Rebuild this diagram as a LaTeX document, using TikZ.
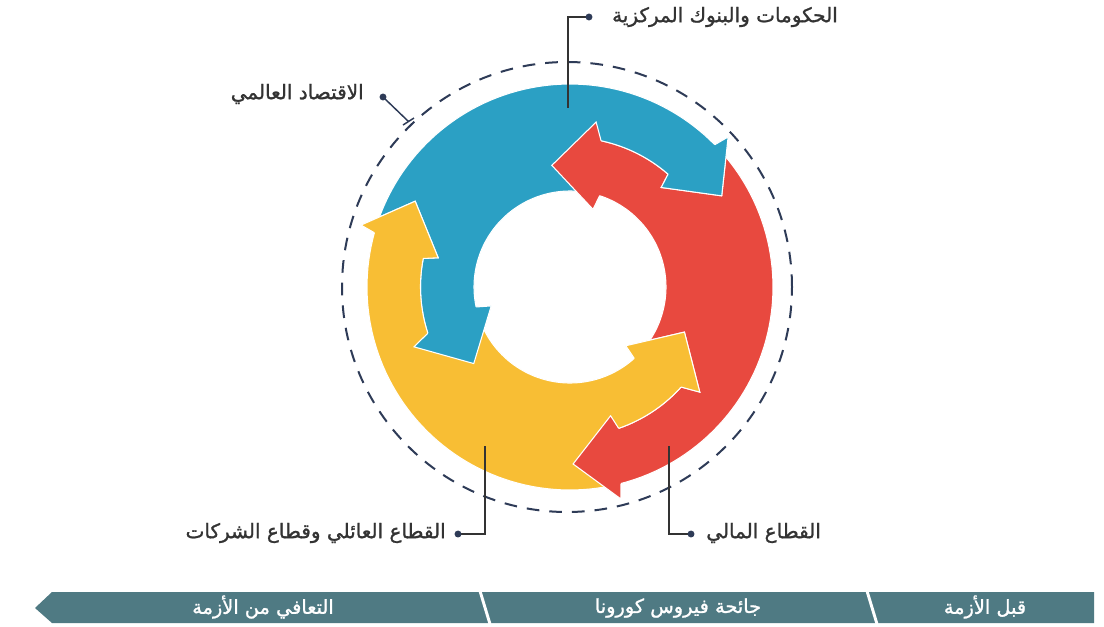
\documentclass[tikz,border=0pt]{standalone}
\usepackage{fontspec}
\newfontfamily\arabicfont[Script=Arabic,FakeBold=1.2]{DejaVu Sans}
\TeXXeTstate=1
\definecolor{cblue}{HTML}{2BA0C4}
\definecolor{cred}{HTML}{E8493F}
\definecolor{cyellow}{HTML}{F8BE34}
\definecolor{cbar}{HTML}{4F7A83}
\definecolor{cnavy}{HTML}{2E3B57}
\definecolor{ctext}{HTML}{333333}
\newcommand{\cyclebody}[1]{%
  \path[fill=#1, draw=white, line width=0.8pt, line join=miter]
   (-75.5:203) -- plot[domain=-75.5:43.5, samples=60] (\x:203)
   -- (46:149.5) -- plot[domain=46:78, samples=20] (\x:149.5)
   -- (81:167) -- (98.5:123) -- (73.5:81) -- (72:96)
   -- plot[domain=72:-45, samples=60] (\x:96)
   -- (-39.5:149.5) -- plot[domain=-39.5:-71, samples=20] (\x:149.5)
   -- (-72.5:135) -- (-89:177) -- (-76.5:218) -- cycle;}
\newcommand{\cycleheads}[1]{%
  \fill[#1] (-75.5:203) -- (-76.5:218) -- (-89:177) -- (-72.5:135) -- (-71:149.5) -- cycle;
  \draw[white, line width=0.8pt, line join=miter] (-75.5:203) -- (-76.5:218) -- (-89:177) -- (-72.5:135) -- (-71:149.5);
  \fill[#1] (78:149.5) -- (81:167) -- (98.5:123) -- (73.5:81) -- (72:96) -- cycle;
  \draw[white, line width=0.8pt, line join=miter] (78:149.5) -- (81:167) -- (98.5:123) -- (73.5:81) -- (72:96);}
\begin{document}
\begin{tikzpicture}[x=0.75pt, y=0.75pt,
  leadline/.style={draw=ctext, line width=1.1pt},
  dotmark/.style={fill=cnavy},
  lbl/.style={text=ctext, inner sep=0pt, font=\arabicfont\fontsize{15}{18}\selectfont},
  barlbl/.style={text=white, inner sep=0pt, font=\arabicfont\fontsize{14.5}{17}\selectfont}]
\useasboundingbox (0,0) rectangle (1104,-626);
\fill[white] (0,0) rectangle (1104,-626);

% dashed circle
\draw[cnavy, line width=1.5pt, dash pattern=on 9.5pt off 7.5pt] (567,-287) circle[radius=168.75pt];

% cycle arrows
\begin{scope}[shift={(570,-287)}]
  \cyclebody{cred}
  \begin{scope}[rotate=120]\cyclebody{cblue}\end{scope}
  \begin{scope}[rotate=240]\cyclebody{cyellow}\end{scope}
  \cycleheads{cred}
  \begin{scope}[rotate=120]\cycleheads{cblue}\end{scope}
  \begin{scope}[rotate=240]\cycleheads{cyellow}\end{scope}
\end{scope}

% labels and leaders
\node[lbl, anchor=east] (lgov) at (838,-17) {\beginR الحكومات والبنوك المركزية\endR};
\coordinate (dgov) at (589,-17);
\coordinate (kgov) at (568,-17);
\coordinate (egov) at (568,-108);
\draw[leadline] (dgov) -- (kgov) -- (egov);
\fill[dotmark] (dgov) circle[radius=2.6pt];

\node[lbl, anchor=east] (leco) at (364,-94) {\beginR الاقتصاد العالمي\endR};
\coordinate (deco) at (383,-97);
\coordinate (eeco) at (408.5,-121.5);
\coordinate (ta) at (403,-125);
\coordinate (tb) at (414,-118);
\draw[cnavy, line width=1.1pt] (deco) -- (eeco);
\draw[cnavy, line width=1.1pt] (ta) -- (tb);
\fill[dotmark] (deco) circle[radius=2.6pt];

\node[lbl, anchor=east] (lhh) at (446,-533) {\beginR القطاع العائلي وقطاع الشركات\endR};
\coordinate (dhh) at (458,-534);
\coordinate (khh) at (485,-534);
\coordinate (ehh) at (485,-446);
\draw[leadline] (dhh) -- (khh) -- (ehh);
\fill[dotmark] (dhh) circle[radius=2.6pt];

\node[lbl, anchor=west] (lfin) at (706,-533) {\beginR القطاع المالي\endR};
\coordinate (dfin) at (691,-534);
\coordinate (kfin) at (669,-534);
\coordinate (efin) at (669,-446);
\draw[leadline] (dfin) -- (kfin) -- (efin);
\fill[dotmark] (dfin) circle[radius=2.6pt];

% timeline bar
\fill[cbar] (35,-608) -- (52,-592) -- (1094,-592) -- (1094,-623) -- (52,-623) -- cycle;
\coordinate (s1a) at (480,-591);
\coordinate (s1b) at (490,-624);
\coordinate (s2a) at (867,-591);
\coordinate (s2b) at (877,-624);
\draw[white, line width=2.2pt] (s1a) -- (s1b);
\draw[white, line width=2.2pt] (s2a) -- (s2b);
\node[barlbl] (brec) at (263,-607) {\beginR التعافي من الأزمة\endR};
\node[barlbl] (bcov) at (678,-608) {\beginR جائحة فيروس كورونا\endR};
\node[barlbl] (bpre) at (985,-607) {\beginR قبل الأزمة\endR};
\end{tikzpicture}
\end{document}
